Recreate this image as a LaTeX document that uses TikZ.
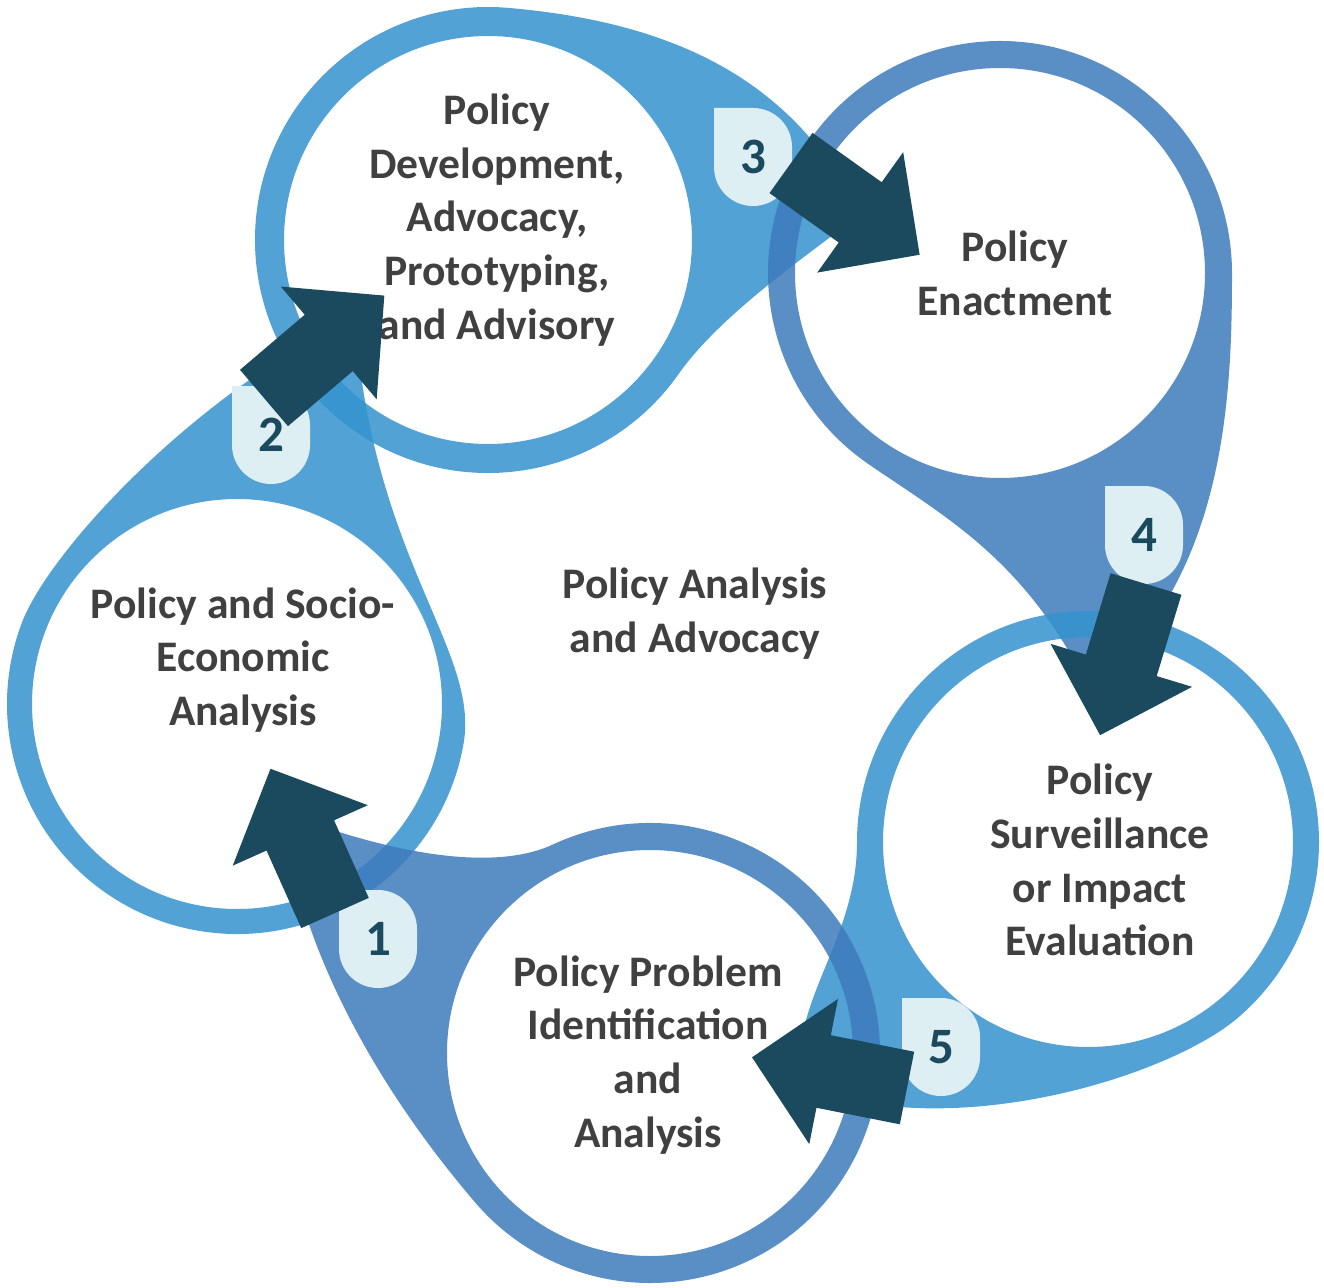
\documentclass[tikz,border=0pt]{standalone}
\usepackage{fontspec}
\setmainfont{Carlito}
\usetikzlibrary{calc}

\definecolor{blobLight}{RGB}{52,146,207}
\definecolor{blobDark}{RGB}{61,123,188}
\definecolor{arrowTeal}{RGB}{27,74,94}
\definecolor{badgeFill}{RGB}{221,239,243}
\definecolor{labelGrey}{RGB}{64,64,64}

\begin{document}
\begin{tikzpicture}[x=0.01cm,y=-0.01cm,
    light blob/.style={fill=blobLight,fill opacity=0.85,even odd rule},
    dark blob/.style={fill=blobDark,fill opacity=0.85,even odd rule},
    flow arrow/.style={fill=arrowTeal},
    badge/.style={fill=badgeFill},
    num label/.style={text=arrowTeal,inner sep=0pt,font=\fontsize{14.5}{17}\selectfont\bfseries},
    label text/.style={text=labelGrey,align=center,font=\fontsize{12.4}{15.3}\selectfont\bfseries}]

  \useasboundingbox (0,0) rectangle (1324,1288);

  \coordinate (S) at (237,704);
  \coordinate (D) at (488,240);
  \coordinate (E) at (1000,273);
  \coordinate (V) at (1088,842);
  \coordinate (P) at (650,1053);

  % rings, each with a tail running into the next one
  \fill[light blob] ($(S)+(10:230)$) arc[start angle=10,end angle=200,radius=230]
    .. controls (48,550) and (200,390) .. (355,318)
    .. controls (372,560) and (480,650) .. ($(S)+(10:230)$) -- cycle
    (S) circle[radius=205];
  \fill[light blob] ($(D)+(35:233)$) arc[start angle=35,end angle=275,radius=233]
    .. controls (658,21) and (790,70) .. (860,215)
    .. controls (800,260) and (719,317) .. ($(D)+(35:233)$) -- cycle
    (D) circle[radius=204];
  \fill[dark blob] ($(E)+(125:232)$) arc[start angle=125,end angle=360,radius=232]
    .. controls (1232,400) and (1225,580) .. (1090,690)
    .. controls (1025,560) and (950,520) .. ($(E)+(125:232)$) -- cycle
    (E) circle[radius=205];
  \fill[light blob] ($(V)+(180:231)$) arc[start angle=180,end angle=410,radius=231]
    .. controls (1167,1077) and (950,1145) .. (800,1085)
    .. controls (790,1000) and (857,940) .. ($(V)+(180:231)$) -- cycle
    (V) circle[radius=205];
  \fill[dark blob] ($(P)+(245:230)$) arc[start angle=245,end angle=500,radius=230]
    .. controls (422,1140) and (305,990) .. (282,812)
    .. controls (380,850) and (489,874) .. ($(P)+(245:230)$) -- cycle
    (P) circle[radius=203];

  % step numbers
  \foreach \n/\bx/\by in {1/339/890, 2/232/386, 3/714/108, 4/1105/486, 5/902/998} {
    \fill[badge] (\bx,\by) -- ++(39,0) arc[start angle=270,end angle=360,radius=39]
      -- ++(0,20) arc[start angle=0,end angle=180,radius=39] -- cycle;
    \node[num label] (b\n) at (\bx+39,\by+49) {\n};
  }

  \node[label text] (analysis) at (243,660) {Policy and Socio-\\Economic\\Analysis};
  \node[label text] (development) at (497,220) {Policy\\Development,\\Advocacy,\\Prototyping,\\and Advisory};
  \node[label text] (enactment) at (1015,273) {Policy\\Enactment};
  \node[label text] (surveillance) at (1100,860) {Policy\\Surveillance\\or Impact\\Evaluation};
  \node[label text] (problem) at (648,1055) {Policy Problem\\Identification\\and\\Analysis};
  \node[label text] (centre) at (695,614) {Policy Analysis\\and Advocacy};

  % block arrows
  \foreach \bx/\by/\rot in {335/913/114.1, 264/398/40.4, 791/163/-35.5, 1146/584/-106.9, 907/1088/-191.2}
    \fill[flow arrow,shift={(\bx,\by)},rotate=\rot]
      (0,-37) -- (85,-37) -- (85,-74) -- (158,0) -- (85,74) -- (85,37) -- (0,37) -- cycle;
\end{tikzpicture}
\end{document}
